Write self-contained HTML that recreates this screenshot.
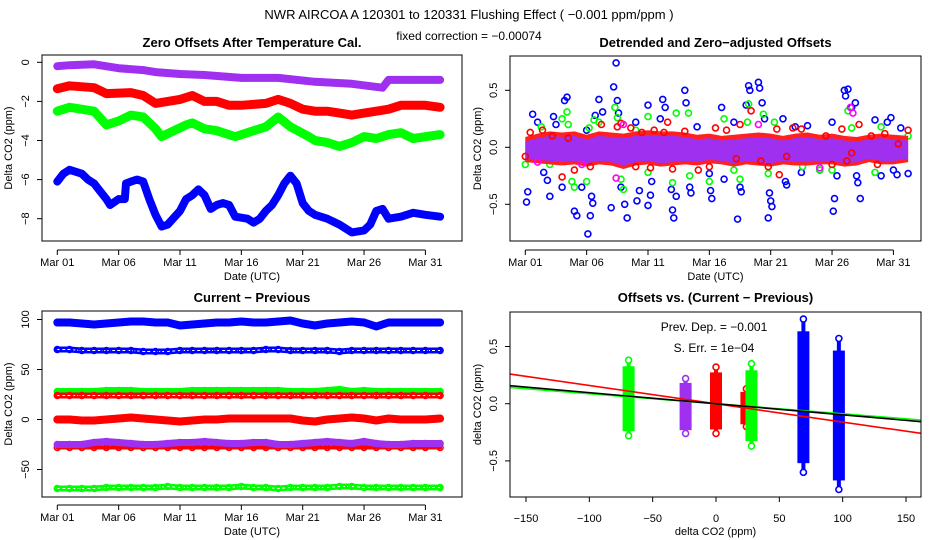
<!DOCTYPE html>
<html><head><meta charset="utf-8">
<style>
html,body{margin:0;padding:0;background:#fff;}
svg{display:block;font-family:"Liberation Sans",sans-serif;}
</style></head>
<body>
<svg id="fig" width="936" height="540" viewBox="0 0 936 540" xmlns="http://www.w3.org/2000/svg">
<text x="469" y="19" font-size="13" text-anchor="middle">NWR   AIRCOA A   120301 to 120331   Flushing Effect ( −0.001 ppm/ppm )</text>
<text x="469" y="40" font-size="12" text-anchor="middle">fixed correction = −0.00074</text>
</svg>
<script>
// ---------- Panel 1 data: Zero offsets ----------
const p1PurpleDays=[0,1,3,5,7,8,10,12,15,18,21,24,26.5,27,29,31.2];
const p1PurpleVals=[-0.2,-0.15,-0.1,-0.3,-0.4,-0.5,-0.6,-0.65,-0.8,-0.8,-1.0,-1.1,-1.3,-0.9,-0.9,-0.9];
const p1RedDays=[0,1,3,4,6,7,8,10,11,12,13,14,15,17,18,19,20,21,22,23,24,25,26,27,28,30,31.2];
const p1RedVals=[-1.35,-1.2,-1.3,-1.6,-1.55,-1.7,-2.1,-1.9,-1.7,-2.0,-2.0,-2.2,-2.2,-2.1,-1.9,-2.1,-2.4,-2.5,-2.5,-2.6,-2.7,-2.6,-2.5,-2.4,-2.2,-2.2,-2.3];
const p1GreenDays=[0,1,3,4,5,6,7,8,8.5,9.5,10.5,11,12,13,14.5,16,17,18,19,20.5,21,22,23,24,25,26,27,28,29,31.2];
const p1GreenVals=[-2.5,-2.3,-2.5,-3.2,-3.0,-2.7,-2.8,-3.4,-3.8,-3.5,-3.2,-3.1,-3.4,-3.5,-3.8,-3.5,-3.3,-2.8,-3.3,-3.8,-4.0,-4.1,-4.3,-4.1,-3.8,-3.9,-3.7,-3.6,-3.9,-3.7];
const p1BlueDays=[0,0.5,1,2,2.5,3,3.5,4,4.3,5,5.5,5.6,6,6.5,7,7.5,8,8.5,9,10,10.5,11,11.5,12,12.5,13,13.5,14,14.5,15.5,16,16.5,17,17.5,18,18.5,19,19.5,20,20.5,21,22,23,24,25,25.5,26,26.5,27,28,29,30,31.2];
const p1BlueVals=[-6.1,-5.7,-5.5,-5.7,-6.0,-6.2,-6.6,-7.0,-7.3,-7.0,-7.0,-6.2,-6.1,-6.0,-6.1,-7.0,-7.8,-8.4,-8.3,-7.6,-7.0,-6.8,-6.5,-6.8,-7.5,-7.3,-7.2,-7.3,-7.9,-8.0,-8.2,-8.0,-7.6,-7.3,-6.8,-6.2,-5.8,-6.2,-7.2,-7.6,-7.8,-8.0,-8.3,-8.7,-8.6,-8.3,-7.6,-7.5,-8.0,-7.9,-7.7,-7.8,-7.9];
const p1YTicks=[0,-2,-4,-6,-8];
const dateTicks=[0,5,10,15,20,25,30];
const dateLabels=["Mar 01","Mar 06","Mar 11","Mar 16","Mar 21","Mar 26","Mar 31"];

// ---------- Panel 2 data: detrended ----------
const p2BandDays=[0,1,2,3,4,5,6,7,8,9,10,11,12,13,14,15,16,17,18,19,20,21,22,23,24,25,26,27,28,29,30,31.2];
const p2BandHi=[0.05,0.08,0.1,0.09,0.1,0.07,0.1,0.09,0.08,0.1,0.11,0.1,0.1,0.09,0.07,0.08,0.06,0.07,0.08,0.09,0.08,0.06,0.08,0.09,0.07,0.08,0.06,0.05,0.07,0.08,0.07,0.06];
const p2BandLo=[-0.1,-0.11,-0.12,-0.13,-0.12,-0.14,-0.12,-0.13,-0.16,-0.13,-0.12,-0.14,-0.13,-0.12,-0.13,-0.11,-0.12,-0.14,-0.12,-0.13,-0.14,-0.12,-0.13,-0.13,-0.12,-0.12,-0.14,-0.13,-0.1,-0.12,-0.12,-0.1];
const p2BlueDays=[0.1,0.2,0.6,1,1.5,1.8,2,2.3,2.5,3,3.2,3.4,4,4.2,4.6,5,5.1,5.3,5.4,5.5,5.7,6,6.3,7,7.2,7.4,7.5,7.6,7.8,8.1,8.3,9,9.1,9.3,10,10,10.2,10.3,11,11.2,11.4,11.9,12,12.1,12.3,13,13.1,13.4,13.5,14,15,15.1,15.2,16,16.2,17,17.3,17.5,17.6,18,18.2,18.3,19,19.1,19.3,19.5,19.8,19.9,20,20.1,21,21.2,21.3,22,22.5,23,24,25,25.1,25.2,25.4,26,26.1,26.3,26.6,26.9,27,27.1,27.3,28.5,29,29.5,29.8,30,30.3,30.6,31.2];
const p2BlueVals=[-0.48,-0.39,0.29,0.22,-0.22,-0.29,-0.43,0.27,0.2,-0.35,0.41,0.44,-0.56,-0.6,-0.35,0.15,-0.76,-0.6,-0.43,-0.49,0.28,0.42,0.31,-0.53,0.53,0.74,0.41,0.3,-0.35,-0.5,-0.62,0.22,-0.47,-0.38,0.37,-0.51,-0.42,-0.3,0.25,0.42,0.35,-0.37,-0.55,-0.62,-0.43,0.5,0.39,-0.35,-0.4,0.18,-0.23,-0.38,-0.45,0.35,-0.28,0.22,-0.63,-0.35,-0.39,0.37,0.54,0.5,0.57,0.52,0.39,0.25,-0.62,-0.4,-0.47,-0.52,0.25,-0.3,-0.33,0.18,-0.22,0.19,-0.2,0.22,-0.56,-0.45,-0.25,0.5,0.45,0.51,0.35,0.39,-0.25,-0.31,-0.45,0.24,-0.25,0.22,0.26,-0.2,-0.24,0.17,-0.23];
const p2GreenDays=[0,1.3,2,3,3.4,3.5,3.8,4,5,5.2,5.6,6,7.3,7.5,7.8,8,9,10,10,12,12.3,13.3,13.4,15,16.2,17,17.5,18.2,18.1,19.4,19.8,20.3,22.6,24,25,26.3,26.6,28.5,29,31.2];
const p2GreenVals=[-0.15,0.18,-0.15,0.25,0.31,0.2,-0.3,-0.35,-0.3,0.17,0.24,0.22,0.35,0.26,-0.28,-0.37,0.15,0.27,-0.22,-0.31,0.3,0.3,-0.25,-0.3,0.25,-0.2,-0.28,0.38,0.22,0.29,-0.23,0.22,-0.17,-0.2,-0.2,0.32,0.17,-0.22,0.18,0.1];
const p2RedDays=[0,0.4,1.4,2.2,3,3.5,4,5.3,6.2,7.5,7.8,8.6,9,9.5,10.2,10.5,11.3,11.6,12,13,14.1,15,15.5,16.4,17.2,17.5,18.4,19.2,19.8,20.5,20.7,21.3,21.8,22.5,24.5,25,25.8,26.2,26.6,27.2,28.2,28.7,29.3,30.4,31.2];
const p2RedVals=[-0.08,0.13,0.15,0.1,-0.26,0.08,-0.2,-0.17,0.2,0.18,0.21,0.17,-0.17,0.13,-0.18,0.15,0.13,0.22,-0.19,0.14,-0.2,-0.17,0.17,0.15,-0.1,0.2,0.32,-0.12,-0.17,0.16,-0.24,-0.08,0.17,0.16,0.1,-0.15,0.16,-0.12,-0.05,0.2,0.1,-0.15,0.12,0.03,0.15];
const p2MagDays=[1,4.6,8,7.4,19,26.5,26.7,24];
const p2MagVals=[-0.13,-0.15,0.2,-0.27,0.2,0.35,0.3,-0.18];
const p2YTicks=[0.5,0,-0.5];
const p2YLabels=["0.5","0.0","-0.5"];

// ---------- Panel 3 data: current - previous ----------
const p3Days=[0,1,2,3,4,5,6,7,8,9,10,11,12,13,14,15,16,17,18,19,20,21,22,23,24,25,26,27,28,29,30,31.2];
const p3BlueTop=[97,97,96,95,96,97,98,98,97,97,94,95,96,97,97,98,97,97,98,99,96,94,96,97,98,97,93,97,97,97,97,97];
const p3BlueOpen=[70,70,69,69,69,69,69,68,68,68,69,69,69,69,69,69,69,70,70,69,69,69,69,68,69,69,69,69,69,69,69,69];
const p3GreenTop=[28,28,28,28,29,29,29,28,28,28,28,29,29,29,29,29,29,29,29,28,28,28,29,30,28,29,28,28,28,28,28,28];
const p3RedOpen=[24,24,24,24,24,24,24,24,24,24,24,24,24,24,24,24,24,24,24,24,24,24,24,24,24,24,24,24,24,24,24,24];
const p3RedZero=[0,0,-1,-1,0,1,2,1,0,-1,-2,-1,0,0,1,1,1,1,1,1,-1,-2,0,1,2,1,-1,1,0,0,0,1];
const p3Purple=[-25,-25,-25,-23,-22,-23,-24,-25,-25,-24,-23,-23,-22,-23,-24,-24,-23,-23,-25,-25,-24,-23,-22,-23,-24,-22,-24,-25,-25,-24,-24,-24];
const p3RedLow=[-28,-28,-28,-28,-28,-28,-28,-28,-28,-28,-28,-28,-28,-28,-28,-28,-28,-28,-28,-28,-28,-28,-28,-28,-28,-28,-28,-28,-28,-28,-28,-28];
const p3GreenLow=[-69,-69,-69,-69,-68,-68,-68,-68,-68,-67,-68,-68,-68,-68,-68,-67,-68,-68,-69,-68,-68,-68,-68,-67,-67,-68,-68,-68,-68,-68,-68,-68];
const p3YTicks=[100,50,0,-50];

// ---------- Panel 4 data: offsets vs difference ----------
const p4StripX=[-69,-24,0,24,28,69,97];
const p4StripLo=[-0.28,-0.26,-0.26,-0.2,-0.37,-0.6,-0.75];
const p4StripHi=[0.38,0.22,0.32,0.13,0.35,0.74,0.57];
const p4StripCol=["#00ff00","#a030f0","#ff0000","#ff0000","#00ff00","#0000ff","#0000ff"];
const p4LineSlope=[-0.0016,-0.00088,-0.00097];
const p4LineCol=["#ff0000","#00ff00","#000000"];
const p4XTicks=[-150,-100,-50,0,50,100,150];
const p4YTicks=[0.5,0,-0.5];

const NS="http://www.w3.org/2000/svg";
const svg=document.getElementById('fig');
function mk(tag,attrs,parent){const e=document.createElementNS(NS,tag);for(const k in attrs)e.setAttribute(k,attrs[k]);(parent||svg).appendChild(e);return e;}
const PURPLE="#a030f0";

function frame(name,box,title,xlab,ylab){
  const g=mk('g',{});
  
  
  const t=mk('text',{x:(box.x0+box.x1)/2,y:box.titleY,'font-size':13,'font-weight':'bold','text-anchor':'middle'},g);
  t.textContent=title;
  
  
  const xl=mk('text',{x:(box.x0+box.x1)/2,y:box.xlabY,'font-size':11,'text-anchor':'middle'},g);
  xl.textContent=xlab;
  
  
  const yl=mk('text',{x:0,y:0,'font-size':11,'text-anchor':'middle',transform:`translate(${box.ylabX},${(box.y0+box.y1)/2}) rotate(-90)`},g);
  yl.textContent=ylab;
  
  
  return g;
}
function border(g,box,name){
  const r=mk('rect',{x:box.x0,y:box.y0,width:box.x1-box.x0,height:box.y1-box.y0,fill:'none',stroke:'#000','stroke-width':1},g);
  
  
}
function yAxis(g,box,ticks,labels,sy,name){
  const ax=mk('g',{},g);
  
  
  const ya=sy(ticks[0]),yb=sy(ticks[ticks.length-1]);
  mk('line',{x1:box.x0,x2:box.x0,y1:ya,y2:yb,stroke:'#000'},ax);
  ticks.forEach((v,i)=>{
    const y=sy(v);
    mk('line',{x1:box.x0-5,x2:box.x0,y1:y,y2:y,stroke:'#000'},ax);
    const t=mk('text',{x:0,y:0,'font-size':11,'text-anchor':'middle',transform:`translate(${box.x0-13},${y}) rotate(-90)`},ax);
    t.textContent=labels[i];
    
    
  });
}
function xAxis(g,box,ticks,labels,sx,axisY,labY,name){
  const ax=mk('g',{},g);
  
  
  mk('line',{x1:sx(ticks[0]),x2:sx(ticks[ticks.length-1]),y1:axisY,y2:axisY,stroke:'#000'},ax);
  ticks.forEach((v,i)=>{
    const x=sx(v);
    mk('line',{x1:x,x2:x,y1:axisY,y2:axisY+5,stroke:'#000'},ax);
    const t=mk('text',{x:x,y:labY,'font-size':11,'text-anchor':'middle'},ax);
    t.textContent=labels[i];
    
    
  });
}
function lineSeries(g,days,vals,sx,sy,col,w,name,open){
  const d=days.map((x,i)=>(i?'L':'M')+sx(x).toFixed(1)+','+sy(vals[i]).toFixed(1)).join('');
  const p=mk('path',{d:d,fill:'none',stroke:col,'stroke-width':w,'stroke-linejoin':'round','stroke-linecap':'round'},g);
  
  
  if(open){mk('path',{d:d,fill:'none',stroke:'#fff','stroke-width':Math.max(1,w-5),'stroke-dasharray':'3 2'},g);}
  days.forEach((x,i)=>{
    const c=mk('circle',{cx:sx(x),cy:sy(vals[i]),r:3,fill:'none',stroke:col,'stroke-width':1.5},g);
    
    
  });
}
function points(g,days,vals,sx,sy,col,name){
  days.forEach((x,i)=>{
    const c=mk('circle',{cx:sx(x),cy:sy(vals[i]),r:3,fill:'none',stroke:col,'stroke-width':1.6},g);
    
    
  });
}

// ---------- Panel 1 ----------
(function(){
  const box={x0:42,x1:462,y0:55,y1:241,titleY:47,xlabY:280,ylabX:12};
  const sx=d=>57.3+d*12.27, sy=v=>62.3-v*19.55;
  const g=frame('zero-offsets-panel',box,'Zero Offsets After Temperature Cal.','Date (UTC)','Delta CO2 (ppm)');
  lineSeries(g,p1PurpleDays,p1PurpleVals,sx,sy,PURPLE,8,'purple-series');
  lineSeries(g,p1RedDays,p1RedVals,sx,sy,'#ff0000',9,'red-series');
  lineSeries(g,p1GreenDays,p1GreenVals,sx,sy,'#00ff00',9,'green-series');
  lineSeries(g,p1BlueDays,p1BlueVals,sx,sy,'#0000ff',8,'blue-series');
  border(g,box,'zero-offsets');
  yAxis(g,box,p1YTicks,p1YTicks.map(v=>v===0?'0':'−'+(-v)),sy,'zero-offsets');
  xAxis(g,box,dateTicks,dateLabels,sx,250,266,'zero-offsets');
})();

// ---------- Panel 2 ----------
(function(){
  const box={x0:510,x1:921,y0:56,y1:241,titleY:47,xlabY:280,ylabX:481};
  const sx=d=>525.3+d*12.27, sy=v=>147.3-v*114;
  const g=frame('detrended-panel',box,'Detrended and Zero−adjusted Offsets','Date (UTC)','Delta CO2 (ppm)');
  points(g,p2BlueDays,p2BlueVals,sx,sy,'#0000ff','blue-outlier');
  points(g,p2GreenDays,p2GreenVals,sx,sy,'#00ff00','green-outlier');
  const rd=p2BandDays.map((x,i)=>(i?'L':'M')+sx(x)+','+sy(p2BandHi[i]+0.04)).join('')+p2BandDays.slice().reverse().map((x,j)=>{const i=p2BandDays.length-1-j;return 'L'+sx(x)+','+sy(p2BandLo[i]-0.03);}).join('')+'Z';
  const rb=mk('path',{d:rd,fill:'#ff2020'},g);
  
  
  const pd=p2BandDays.map((x,i)=>(i?'L':'M')+sx(x)+','+sy(p2BandHi[i])).join('')+p2BandDays.slice().reverse().map((x,j)=>{const i=p2BandDays.length-1-j;return 'L'+sx(x)+','+sy(p2BandLo[i]);}).join('')+'Z';
  const pb=mk('path',{d:pd,fill:PURPLE},g);
  
  
  points(g,p2RedDays,p2RedVals,sx,sy,'#ff0000','red-outlier');
  points(g,p2MagDays,p2MagVals,sx,sy,'#ff00ff','magenta-outlier');
  border(g,box,'detrended');
  yAxis(g,box,p2YTicks,p2YLabels.map(s=>s.replace('-','−')),sy,'detrended');
  xAxis(g,box,dateTicks,dateLabels,sx,250,266,'detrended');
})();

// ---------- Panel 3 ----------
(function(){
  const box={x0:42,x1:462,y0:311,y1:497,titleY:302,xlabY:535,ylabX:12};
  const sx=d=>57.3+d*12.27, sy=v=>419.5-v*1.0;
  const g=frame('current-previous-panel',box,'Current − Previous','Date (UTC)','Delta CO2 (ppm)');
  lineSeries(g,p3Days,p3BlueTop,sx,sy,'#0000ff',8,'blue-current-series');
  lineSeries(g,p3Days,p3BlueOpen,sx,sy,'#0000ff',6,'blue-previous-series',true);
  lineSeries(g,p3Days,p3GreenTop,sx,sy,'#00ff00',7,'green-current-series');
  lineSeries(g,p3Days,p3RedOpen,sx,sy,'#ff0000',6,'red-previous-series',true);
  lineSeries(g,p3Days,p3RedZero,sx,sy,'#ff0000',8,'red-current-series');
  lineSeries(g,p3Days,p3RedLow,sx,sy,'#ff0000',4,'red-low-series');
  lineSeries(g,p3Days,p3Purple,sx,sy,PURPLE,7,'purple-series');
  lineSeries(g,p3Days,p3GreenLow,sx,sy,'#00ff00',6,'green-low-series',true);
  border(g,box,'current-previous');
  yAxis(g,box,p3YTicks,p3YTicks.map(v=>v<0?'−'+(-v):String(v)),sy,'current-previous');
  xAxis(g,box,dateTicks,dateLabels,sx,505,521,'current-previous');
})();

// ---------- Panel 4 ----------
(function(){
  const box={x0:510,x1:921,y0:312,y1:497,titleY:302,xlabY:535,ylabX:481};
  const sx=v=>716+v*1.2667, sy=v=>403.7-v*114.4;
  const g=frame('offsets-vs-diff-panel',box,'Offsets vs. (Current − Previous)','delta CO2 (ppm)','delta CO2 (ppm)');
  const cg=mk('g',{},g);
  
  
  p4StripX.forEach((x,i)=>{
    const lo=p4StripLo[i],hi=p4StripHi[i];
    const coreLo=lo+(hi-lo)*0.06, coreHi=hi-(hi-lo)*0.08;
    const r=mk('rect',{x:sx(x)-6,y:sy(coreHi),width:12,height:sy(coreLo)-sy(coreHi),fill:p4StripCol[i]},cg);
    
    
    const l=mk('line',{x1:sx(x),x2:sx(x),y1:sy(hi),y2:sy(lo),stroke:p4StripCol[i],'stroke-width':4},cg);
    
    
    [hi,lo].forEach(v=>{
      const c=mk('circle',{cx:sx(x),cy:sy(v),r:3,fill:'#fff',stroke:p4StripCol[i],'stroke-width':1.6},cg);
      
      
    });
  });
  p4LineSlope.forEach((s,i)=>{
    const l=mk('line',{x1:box.x0,x2:box.x1,y1:sy(s*(-162)),y2:sy(s*162),stroke:p4LineCol[i],'stroke-width':1.6},g);
    
    
  });
  const t1=mk('text',{x:714,y:331,'font-size':12,'text-anchor':'middle'},g);
  t1.textContent='Prev. Dep. =  −0.001';
  
  
  const t2=mk('text',{x:714,y:352,'font-size':12,'text-anchor':'middle'},g);
  t2.textContent='S. Err. =  1e−04';
  
  
  border(g,box,'offsets-vs-diff');
  yAxis(g,box,p4YTicks,["0.5","0.0","−0.5"],sy,'offsets-vs-diff');
  const ax=mk('g',{},g);
  
  
  p4XTicks.forEach(v=>{
    const x=sx(v);
    mk('line',{x1:x,x2:x,y1:497,y2:502,stroke:'#000'},ax);
    const t=mk('text',{x:x,y:522,'font-size':11,'text-anchor':'middle'},ax);
    t.textContent=v<0?'−'+(-v):String(v);
    
    
  });
})();
</script>
</body></html>
